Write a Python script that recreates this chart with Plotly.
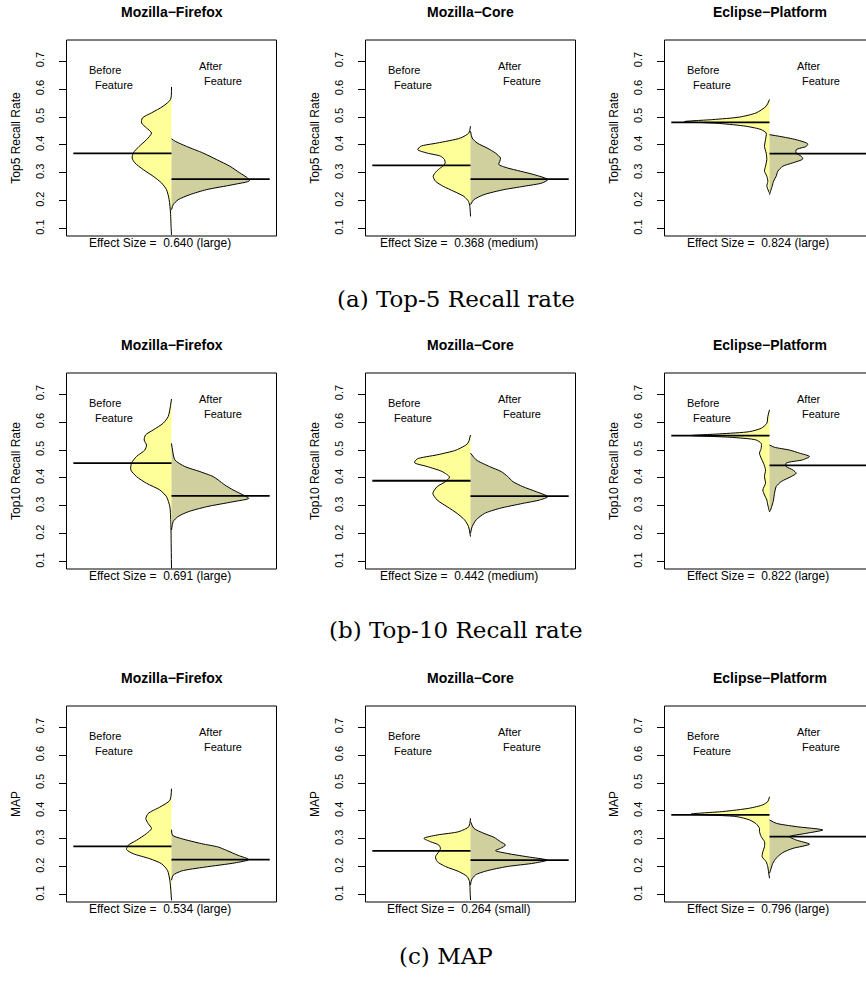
import plotly.graph_objects as go

# ---------------- data ----------------
PROJECTS = ["Mozilla\u2212Firefox", "Mozilla\u2212Core", "Eclipse\u2212Platform"]
METRICS = ["Top5 Recall Rate", "Top10 Recall Rate", "MAP"]
CAPTIONS = ["(a) Top-5 Recall rate", "(b) Top-10 Recall rate", "(c) MAP"]
Y_TICKS = [0.1, 0.2, 0.3, 0.4, 0.5, 0.6, 0.7]

# effect sizes per metric row, per project column
EFFECT_T5 = ["0.640 (large)", "0.368 (medium)", "0.824 (large)"]
EFFECT_T10 = ["0.691 (large)", "0.442 (medium)", "0.822 (large)"]
EFFECT_MAP = ["0.534 (large)", "0.264 (small)", "0.796 (large)"]

# bean lines (before, after)
LINES_T5 = [(0.370, 0.278), (0.327, 0.278), (0.481, 0.369)]
LINES_T10 = [(0.453, 0.336), (0.390, 0.335), (0.552, 0.445)]
LINES_MAP = [(0.273, 0.226), (0.257, 0.224), (0.386, 0.308)]

# density outlines (value, relative density)
FF_T5_BEFORE_Y = [0.608, 0.563, 0.539, 0.515, 0.497, 0.479, 0.461, 0.443, 0.419, 0.395, 0.371,
                  0.353, 0.336, 0.312, 0.288, 0.264, 0.24, 0.204, 0.156, 0.1, 0.078]
FF_T5_BEFORE_D = [0, 3, 25, 60, 87, 90, 75, 60, 75, 97, 115, 118, 110, 85, 55, 30, 15, 7, 3, 1, 0]
FF_T5_AFTER_Y = [0.422, 0.414, 0.395, 0.371, 0.348, 0.324, 0.30, 0.282, 0.272, 0.258, 0.24,
                 0.222, 0.204, 0.186, 0.168]
FF_T5_AFTER_D = [0, 10, 45, 95, 135, 175, 205, 228, 234, 185, 105, 55, 20, 5, 0]

CO_T5_BEFORE_Y = [0.467, 0.443, 0.425, 0.407, 0.395, 0.383, 0.371, 0.36, 0.348, 0.336, 0.327,
                  0.318, 0.306, 0.288, 0.27, 0.252, 0.234, 0.216, 0.198, 0.18, 0.144]
CO_T5_BEFORE_D = [0, 5, 30, 100, 150, 158, 130, 90, 78, 76, 80, 90, 102, 112, 105, 82, 50, 20, 6, 2, 0]
CO_T5_AFTER_Y = [0.449, 0.425, 0.407, 0.389, 0.371, 0.353, 0.342, 0.33, 0.318, 0.306, 0.294,
                 0.276, 0.264, 0.252, 0.24, 0.222, 0.204, 0.186]
CO_T5_AFTER_D = [0, 5, 20, 50, 75, 90, 88, 85, 110, 150, 190, 232, 215, 160, 100, 40, 10, 0]

EC_T5_BEFORE_Y = [0.563, 0.539, 0.515, 0.50, 0.491, 0.484, 0.477, 0.467, 0.455, 0.443, 0.419,
                  0.395, 0.371, 0.348, 0.324, 0.306, 0.288, 0.27, 0.252, 0.228]
EC_T5_BEFORE_D = [0, 10, 40, 90, 170, 255, 150, 70, 25, 10, 12, 15, 10, 8, 12, 15, 8, 5, 8, 0]
EC_T5_AFTER_Y = [0.437, 0.431, 0.419, 0.404, 0.395, 0.383, 0.371, 0.36, 0.35, 0.336, 0.324,
                 0.306, 0.288, 0.27, 0.252, 0.234, 0.222]
EC_T5_AFTER_D = [0, 30, 80, 115, 110, 80, 80, 95, 100, 70, 40, 25, 20, 12, 8, 3, 0]

FF_T10_BEFORE_Y = [0.683, 0.62, 0.596, 0.572, 0.554, 0.536, 0.518, 0.50, 0.477, 0.453, 0.429,
                   0.405, 0.381, 0.357, 0.333, 0.297, 0.238, 0.166, 0.076]
FF_T10_BEFORE_D = [0, 10, 25, 55, 78, 82, 75, 80, 105, 120, 122, 105, 75, 35, 15, 5, 2, 1, 0]
FF_T10_AFTER_Y = [0.524, 0.50, 0.465, 0.441, 0.423, 0.405, 0.393, 0.375, 0.357, 0.339, 0.327,
                  0.315, 0.297, 0.279, 0.262, 0.244, 0.214]
FF_T10_AFTER_D = [0, 3, 10, 40, 85, 125, 140, 160, 185, 215, 232, 185, 105, 50, 20, 5, 0]

CO_T10_BEFORE_Y = [0.554, 0.524, 0.50, 0.483, 0.468, 0.455, 0.441, 0.423, 0.403, 0.387, 0.369,
                   0.345, 0.321, 0.297, 0.273, 0.25, 0.226, 0.19]
CO_T10_BEFORE_D = [0, 8, 43, 100, 160, 168, 130, 85, 63, 75, 100, 113, 100, 70, 40, 18, 6, 0]
CO_T10_AFTER_Y = [0.489, 0.465, 0.441, 0.423, 0.405, 0.387, 0.369, 0.351, 0.333, 0.321, 0.309,
                  0.291, 0.273, 0.25, 0.226, 0.202]
CO_T10_AFTER_D = [0, 17, 57, 92, 112, 127, 157, 197, 232, 207, 157, 87, 42, 17, 5, 0]

EC_T10_BEFORE_Y = [0.644, 0.62, 0.596, 0.578, 0.566, 0.558, 0.552, 0.546, 0.536, 0.524, 0.506,
                   0.489, 0.471, 0.453, 0.429, 0.405, 0.381, 0.357, 0.339, 0.321, 0.303, 0.279]
EC_T10_BEFORE_D = [0, 5, 8, 25, 60, 150, 235, 120, 40, 25, 25, 30, 25, 18, 12, 15, 12, 20, 15, 8, 5, 0]
EC_T10_AFTER_Y = [0.518, 0.51, 0.50, 0.489, 0.477, 0.465, 0.453, 0.441, 0.429, 0.417, 0.405,
                  0.387, 0.369, 0.345, 0.321, 0.303, 0.285, 0.279]
EC_T10_AFTER_D = [0, 15, 60, 90, 120, 100, 50, 50, 70, 80, 65, 35, 20, 15, 12, 8, 3, 0]

FF_MAP_BEFORE_Y = [0.48, 0.438, 0.414, 0.391, 0.373, 0.355, 0.337, 0.319, 0.295, 0.277, 0.262,
                   0.247, 0.229, 0.211, 0.187, 0.152, 0.116, 0.08]
FF_MAP_BEFORE_D = [0, 5, 35, 70, 77, 70, 60, 75, 105, 130, 135, 115, 65, 30, 12, 5, 2, 0]
FF_MAP_AFTER_Y = [0.333, 0.313, 0.301, 0.283, 0.271, 0.259, 0.241, 0.226, 0.214, 0.199, 0.185,
                  0.17, 0.152]
FF_MAP_AFTER_D = [0, 3, 30, 90, 140, 165, 200, 232, 190, 100, 30, 5, 0]

CO_MAP_BEFORE_Y = [0.374, 0.344, 0.326, 0.314, 0.302, 0.29, 0.278, 0.266, 0.254, 0.236, 0.219,
                   0.201, 0.183, 0.165, 0.147, 0.105, 0.081]
CO_MAP_BEFORE_D = [0, 5, 35, 100, 140, 120, 95, 90, 95, 105, 100, 75, 35, 10, 3, 1, 0]
CO_MAP_AFTER_Y = [0.362, 0.338, 0.32, 0.306, 0.29, 0.278, 0.266, 0.258, 0.248, 0.236, 0.224,
                  0.213, 0.201, 0.186, 0.171, 0.153, 0.135]
CO_MAP_AFTER_D = [0, 10, 40, 70, 90, 105, 90, 75, 110, 170, 230, 190, 110, 50, 15, 3, 0]

EC_MAP_BEFORE_Y = [0.451, 0.434, 0.422, 0.41, 0.398, 0.389, 0.38, 0.368, 0.354, 0.338, 0.326,
                   0.308, 0.29, 0.272, 0.254, 0.236, 0.218, 0.2, 0.183, 0.159]
EC_MAP_BEFORE_D = [0, 5, 20, 60, 140, 235, 100, 60, 40, 30, 30, 25, 15, 15, 20, 22, 10, 5, 3, 0]
EC_MAP_AFTER_Y = [0.368, 0.356, 0.344, 0.332, 0.32, 0.308, 0.296, 0.281, 0.266, 0.251, 0.231,
                  0.213, 0.195, 0.177]
EC_MAP_AFTER_D = [0, 20, 80, 160, 110, 60, 80, 120, 70, 40, 20, 10, 5, 0]

BEANS = [
    [(FF_T5_BEFORE_Y, FF_T5_BEFORE_D, FF_T5_AFTER_Y, FF_T5_AFTER_D),
     (CO_T5_BEFORE_Y, CO_T5_BEFORE_D, CO_T5_AFTER_Y, CO_T5_AFTER_D),
     (EC_T5_BEFORE_Y, EC_T5_BEFORE_D, EC_T5_AFTER_Y, EC_T5_AFTER_D)],
    [(FF_T10_BEFORE_Y, FF_T10_BEFORE_D, FF_T10_AFTER_Y, FF_T10_AFTER_D),
     (CO_T10_BEFORE_Y, CO_T10_BEFORE_D, CO_T10_AFTER_Y, CO_T10_AFTER_D),
     (EC_T10_BEFORE_Y, EC_T10_BEFORE_D, EC_T10_AFTER_Y, EC_T10_AFTER_D)],
    [(FF_MAP_BEFORE_Y, FF_MAP_BEFORE_D, FF_MAP_AFTER_Y, FF_MAP_AFTER_D),
     (CO_MAP_BEFORE_Y, CO_MAP_BEFORE_D, CO_MAP_AFTER_Y, CO_MAP_AFTER_D),
     (EC_MAP_BEFORE_Y, EC_MAP_BEFORE_D, EC_MAP_AFTER_Y, EC_MAP_AFTER_D)],
]
LINES = [LINES_T5, LINES_T10, LINES_MAP]
EFFECTS = [EFFECT_T5, EFFECT_T10, EFFECT_MAP]

# ---------------- layout / style ----------------
W, H = 866, 983
BOX_LEFT = [66.5, 365.5, 664.5]
BOX_TOP = [40, 373, 706]
BOX_W, BOX_H = 210, 196
HALF = BOX_W / 2.0
Y_RANGE = [0.074, 0.776]
DENS_SCALE = 1 / 315.0
LINE_REACH = 0.935
CAPTION_Y = [299, 630, 956]
CAPTION_X = [456, 456, 446]
C_BEFORE = "#FFFF99"
C_AFTER = "#D0D09E"
SANS = "Liberation Sans, Arial, sans-serif"
SERIF = "DejaVu Serif, serif"

fig = go.Figure()
layout = dict(width=W, height=H, margin=dict(l=0, r=0, t=0, b=0),
              paper_bgcolor="white", plot_bgcolor="white", showlegend=False)
annotations = []
shapes = []

for r in range(3):
    for c in range(3):
        k = r * 3 + c + 1
        suf = "" if k == 1 else str(k)
        xa, ya = f"x{suf}", f"y{suf}"
        L, T = BOX_LEFT[c], BOX_TOP[r]
        right_px = min(L + BOX_W, W)
        xr = [-1, -1 + (right_px - L) / HALF]
        layout[f"xaxis{suf}"] = dict(domain=[L / W, right_px / W], range=xr, visible=False,
                                     anchor=ya, fixedrange=True)
        layout[f"yaxis{suf}"] = dict(
            domain=[1 - (T + BOX_H) / H, 1 - T / H], range=Y_RANGE, anchor=xa,
            tickvals=Y_TICKS, tickformat=".1f", tickangle=-90, ticks="outside",
            ticklen=7, tickwidth=1, tickcolor="black", ticklabelstandoff=10,
            tickfont=dict(family=SANS, size=11, color="black"),
            showgrid=False, zeroline=False, showline=False, fixedrange=True,
            title=dict(text=METRICS[r], standoff=10,
                       font=dict(family=SANS, size=12, color="black")))

        by, bd, ay, ad = BEANS[r][c]
        fig.add_trace(go.Scatter(
            x=[-d * DENS_SCALE for d in bd], y=by, xaxis=xa, yaxis=ya, mode="lines",
            fill="tozerox", fillcolor=C_BEFORE, line=dict(color="black", width=1,
                                                            shape="spline", smoothing=0.7),
            hoverinfo="skip"))
        fig.add_trace(go.Scatter(
            x=[d * DENS_SCALE for d in ad], y=ay, xaxis=xa, yaxis=ya, mode="lines",
            fill="tozerox", fillcolor=C_AFTER, line=dict(color="black", width=1,
                                                           shape="spline", smoothing=0.7),
            hoverinfo="skip"))
        b_line, a_line = LINES[r][c]
        fig.add_trace(go.Scatter(x=[-LINE_REACH, 0], y=[b_line, b_line], xaxis=xa, yaxis=ya,
                                 mode="lines", line=dict(color="black", width=1.8),
                                 hoverinfo="skip"))
        fig.add_trace(go.Scatter(x=[0, LINE_REACH], y=[a_line, a_line], xaxis=xa, yaxis=ya,
                                 mode="lines", line=dict(color="black", width=1.8),
                                 hoverinfo="skip"))

        # frame
        shapes.append(dict(type="rect", xref="paper", yref="paper",
                           x0=L / W, x1=(L + BOX_W) / W,
                           y0=1 - (T + BOX_H) / H, y1=1 - T / H,
                           line=dict(color="black", width=1), fillcolor="rgba(0,0,0,0)",
                           layer="above"))

        txt_font = dict(family=SANS, size=11, color="black")
        for tx, ty, t in [(-0.638, 0.668, "Before"), (-0.543, 0.614, "Feature"),
                          (0.378, 0.682, "After"), (0.486, 0.628, "Feature")]:
            annotations.append(dict(x=tx, y=ty, xref=xa, yref=ya, text=t, showarrow=False,
                                    font=txt_font, xanchor="center", yanchor="middle"))
        annotations.append(dict(x=0, y=1, xref=xa, yref=f"{ya} domain", yshift=28,
                                text=f"<b>{PROJECTS[c]}</b>", showarrow=False,
                                font=dict(family=SANS, size=14, color="black"),
                                xanchor="center", yanchor="middle"))
        annotations.append(dict(x=-12 / HALF, y=0, xref=xa, yref=f"{ya} domain", yshift=-7,
                                text="Effect Size = \u00a0" + EFFECTS[r][c], showarrow=False,
                                font=dict(family=SANS, size=12, color="black"),
                                xanchor="center", yanchor="middle"))

    annotations.append(dict(x=CAPTION_X[r] / W, y=1 - CAPTION_Y[r] / H, xref="paper",
                            yref="paper", text=CAPTIONS[r], showarrow=False,
                            font=dict(family=SERIF, size=23, color="black"),
                            xanchor="center", yanchor="middle"))

layout["annotations"] = annotations
layout["shapes"] = shapes
fig.update_layout(**layout)
fig.write_html("out.html")
